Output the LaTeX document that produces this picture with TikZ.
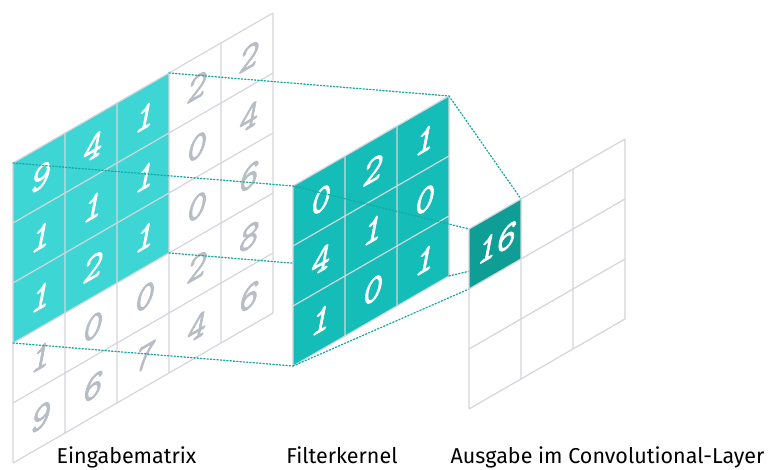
\documentclass[tikz,border=0pt]{standalone}
\usepackage{fontspec}
\setmainfont{Fira Sans}
\newfontfamily\digitfont{Latin Modern Mono}[FakeBold=2, FakeSlant=0.22]
\usetikzlibrary{positioning}

\definecolor{inputcyan}{HTML}{3DD6D4}
\definecolor{kernelteal}{HTML}{14BDB7}
\definecolor{outteal}{HTML}{0E9E96}
\definecolor{gridgray}{HTML}{D3D6DB}
\definecolor{digitgray}{HTML}{B8BCC4}
\definecolor{guideteal}{HTML}{1AA8A2}

\tikzset{
  plane/.style={yslant=0.577, x=52pt, y=60pt},
  inmat/.style={shift={(13pt,7pt)}, plane},
  kernel/.style={shift={(293pt,104pt)}, plane},
  outmat/.style={shift={(469pt,61pt)}, plane},
  cellgrid/.style={draw=gridgray, line width=1.2pt},
  digit/.style={transform shape, inner sep=0pt, font=\fontsize{37}{37}\selectfont\digitfont},
  guide/.style={guideteal, line width=1.3pt, dotted, line cap=round},
  caption/.style={anchor=base, font=\fontsize{21.5}{26}\selectfont}
}

\begin{document}
\begin{tikzpicture}[x=1pt,y=1pt]
\useasboundingbox (0,0) rectangle (768,470);

% Eingabematrix 5x5, oben links das Fenster des Kernels
\begin{scope}[inmat]
\fill[inputcyan] (0,2) rectangle (3,5);
\foreach \i in {0,...,5}
  \draw[cellgrid] (\i,0) -- (\i,5) (0,\i) -- (5,\i);
\foreach \vals [count=\row] in {{9,4,1,2,2},{1,1,1,0,4},{1,2,1,0,6},{1,0,0,2,8},{9,6,7,4,6}}
  \foreach \v [count=\col] in \vals {
    \pgfmathtruncatemacro\lit{and(\row<4,\col<4)}
    \ifnum\lit=1 \def\shade{white}\else\def\shade{digitgray}\fi
    \node[digit, text=\shade] (in-\row-\col) at (\col-0.5, 5.5-\row) {\v};
  }
\coordinate (w-tl) at (0,5);
\coordinate (w-tr) at (3,5);
\coordinate (w-bl) at (0,2);
\coordinate (w-br) at (3,2);
\end{scope}

\path[kernel] (0,3) coordinate (k-tl) (3,3) coordinate (k-tr)
              (0,0) coordinate (k-bl) (3,0) coordinate (k-br);
\path[outmat] (0,3) coordinate (o-tl) (1,3) coordinate (o-tr)
              (0,2) coordinate (o-bl) (1,2) coordinate (o-br);

% Fenster -> Kernel
\draw[guide] (w-tl) -- (k-tl);
\draw[guide] (w-tr) -- (k-tr);
\draw[guide] (w-bl) -- (k-bl);
\draw[guide] (w-br) -- (k-br);

% Filterkernel 3x3
\begin{scope}[kernel]
\fill[kernelteal] (0,0) rectangle (3,3);
\foreach \i in {0,...,3}
  \draw[cellgrid] (\i,0) -- (\i,3) (0,\i) -- (3,\i);
\foreach \vals [count=\row] in {{0,2,1},{4,1,0},{1,0,1}}
  \foreach \v [count=\col] in \vals
    \node[digit, text=white] (k-\row-\col) at (\col-0.5, 3.5-\row) {\v};
\end{scope}

% Kernel -> Ausgabe
\draw[guide] (k-tl) -- (o-tl);
\draw[guide] (k-tr) -- (o-tr);
\draw[guide] (k-bl) -- (o-bl);
\draw[guide] (k-br) -- (o-br);

% Ausgabe 3x3
\begin{scope}[outmat]
\fill[white] (0,0) rectangle (3,3);
\fill[outteal] (0,2) rectangle (1,3);
\foreach \i in {0,...,3}
  \draw[cellgrid] (\i,0) -- (\i,3) (0,\i) -- (3,\i);
\node[digit, text=white] (out-1-1) at (0.5,2.5) {16};
\end{scope}

\node[caption] (cap-in) at (126.5,6) {Eingabematrix};
\node[caption] (cap-k) at (342,6) {Filterkernel};
\node[caption] (cap-out) at (607.5,6) {Ausgabe im Convolutional-Layer};
\end{tikzpicture}
\end{document}
